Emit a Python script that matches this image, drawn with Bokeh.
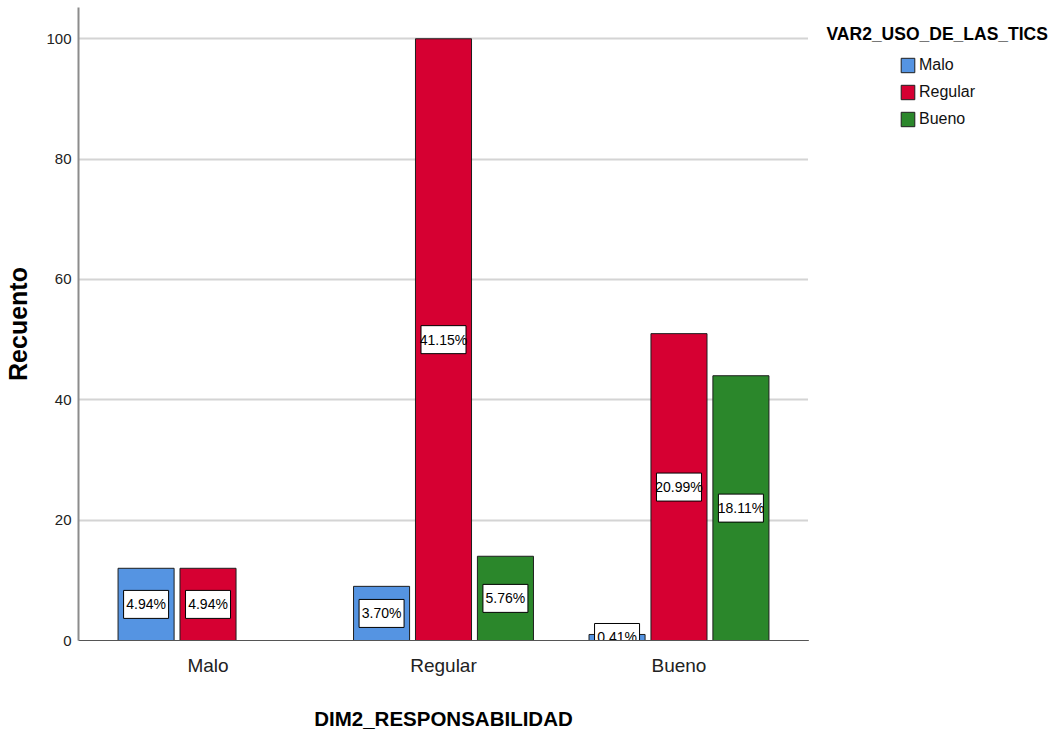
from bokeh.plotting import figure
from bokeh.layouts import row
from bokeh.models import (ColumnDataSource, FactorRange, Legend, LegendItem,
                          Label, SingleIntervalTicker, Range1d)
from bokeh.transform import dodge
from bokeh.embed import file_html
from bokeh.resources import INLINE
from bokeh.core.properties import value

# ---- data ----
categories = ["Malo", "Regular", "Bueno"]          # DIM2_RESPONSABILIDAD
series = ["Malo", "Regular", "Bueno"]              # VAR2_USO_DE_LAS_TICS
counts_malo = [12, 9, 1]
counts_regular = [12, 100, 51]
counts_bueno = [0, 14, 44]
colors = ["#5594e2", "#d60032", "#2b872b"]

FONT = "Liberation Sans"

all_counts = [counts_malo, counts_regular, counts_bueno]
total = sum(sum(c) for c in all_counts)

p = figure(x_range=FactorRange(factors=categories, range_padding=0.1 / 3),
           y_range=(0, 105.2), width=808, height=732,
           output_backend="svg", toolbar_location=None,
           min_border_left=78, min_border_right=0, min_border_top=7,
           min_border_bottom=92)
p.outline_line_color = None
p.background_fill_color = "white"

offsets = [-0.263, 0.0, 0.263]
bar_w = 0.238
label_srcs = []
for s, cnt, col, off in zip(series, all_counts, colors, offsets):
    xs = [c for c, v in zip(categories, cnt) if v > 0]
    vs = [v for v in cnt if v > 0]
    src = ColumnDataSource(dict(x=xs, top=vs, mid=[v / 2 for v in vs],
                                lab=["%.2f%%" % (100.0 * v / total) for v in vs]))
    p.vbar(x=dodge("x", off, range=p.x_range), top="top", width=bar_w, source=src,
           fill_color=col, line_color="#1e1e1e", line_width=1)
    label_srcs.append((src, off))

for src, off in label_srcs:
    p.rect(x=dodge("x", off, range=p.x_range), y="mid", width=45, height=28,
           width_units="screen", height_units="screen", source=src,
           fill_color="white", line_color="black", line_width=1)
    p.text(x=dodge("x", off, range=p.x_range), y="mid", text="lab", source=src,
           text_align="center", text_baseline="middle",
           text_font=value(FONT), text_font_size="14px", text_color="black")

# axes
p.xgrid.grid_line_color = None
p.ygrid.grid_line_color = "#d4d4d4"
p.ygrid.grid_line_width = 2
p.yaxis.ticker = SingleIntervalTicker(interval=20)
p.yaxis.axis_line_color = "#8c8c8c"
p.yaxis.axis_line_width = 2
p.yaxis.major_tick_line_color = None
p.yaxis.minor_tick_line_color = None
p.yaxis.major_tick_out = 0
p.yaxis.minor_tick_out = 0
p.yaxis.major_label_standoff = 7
p.yaxis.major_label_text_font = FONT
p.yaxis.major_label_text_font_size = "15px"
p.yaxis.major_label_text_color = "#222222"
p.yaxis.axis_label = "Recuento"
p.yaxis.axis_label_text_font = FONT
p.yaxis.axis_label_text_font_style = "bold"
p.yaxis.axis_label_text_font_size = "25px"
p.yaxis.axis_label_standoff = 11
p.yaxis.axis_label_text_color = "black"

p.xaxis.axis_line_color = "#555555"
p.xaxis.axis_line_width = 1
p.xaxis.major_tick_line_color = None
p.xaxis.minor_tick_line_color = None
p.xaxis.major_tick_out = 0
p.xaxis.minor_tick_out = 0
p.xaxis.major_label_standoff = 14
p.xaxis.major_label_text_font = FONT
p.xaxis.major_label_text_font_size = "19px"
p.xaxis.major_label_text_color = "#222222"
p.xaxis.axis_label = "DIM2_RESPONSABILIDAD"
p.xaxis.axis_label_text_font = FONT
p.xaxis.axis_label_text_font_style = "bold"
p.xaxis.axis_label_text_font_size = "20.5px"
p.xaxis.axis_label_standoff = 28
p.xaxis.axis_label_text_color = "black"

# ---- legend panel ----
lg = figure(width=250, height=732, x_range=Range1d(0, 250), y_range=Range1d(0, 732),
            output_backend="svg", toolbar_location=None,
            min_border_left=0, min_border_right=0, min_border_top=0, min_border_bottom=0)
lg.axis.visible = False
lg.grid.visible = False
lg.outline_line_color = None

items = []
for s, col in zip(series, colors):
    # proxy renderer (kept outside the visible range) only to supply the legend swatch
    r = lg.vbar(x=[-500], top=[-500], width=1, fill_color=col,
                line_color="#1e1e1e", line_width=1)
    items.append(LegendItem(label=s, renderers=[r]))

legend = Legend(items=items, location=(91, 512), padding=0, margin=0, spacing=9,
                glyph_width=17, glyph_height=18, label_height=18, label_standoff=3,
                label_text_font=FONT, label_text_font_size="16px",
                label_text_color="#111111",
                border_line_color=None, background_fill_alpha=0)
lg.add_layout(legend, "center")

title = Label(x=18, y=701, text="VAR2_USO_DE_LAS_TICS", text_font=FONT,
              text_font_style="bold", text_font_size="17.5px", text_baseline="middle",
              text_color="black")
lg.add_layout(title)

layout = row(p, lg, spacing=0)
open("out.html", "w").write(file_html(layout, INLINE))
